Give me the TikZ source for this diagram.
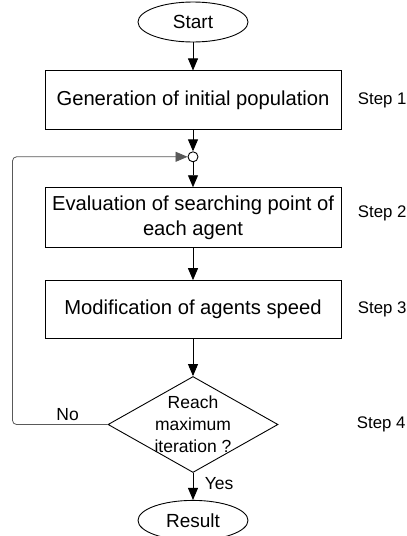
\documentclass[tikz,border=0pt]{standalone}
\usepackage{fontspec}
\setmainfont{Liberation Sans}
\usetikzlibrary{arrows.meta,positioning,shapes.geometric}
\begin{document}
\begin{tikzpicture}[
  x=1pt, y=1pt,
  every node/.style={align=center},
  term/.style={draw, ellipse, minimum width=110pt, minimum height=40pt, inner sep=0pt, font=\fontsize{19}{23}\selectfont},
  box/.style={draw, minimum width=296pt, inner sep=0pt, font=\fontsize{20.2}{25}\selectfont},
  decision/.style={draw, diamond, minimum width=170pt, minimum height=96pt, inner sep=0pt},
  tag/.style={font=\fontsize{17.5}{22}\selectfont},
  steptag/.style={inner sep=0pt, font=\fontsize{16.8}{20}\selectfont},
  joint/.style={draw, circle, minimum size=10pt, inner sep=0pt},
  back/.style={draw=black!65, line width=0.8pt, rounded corners=4pt},
  line width=0.9pt,
  >={Triangle[length=12pt,width=10pt]}
]
\useasboundingbox (0,0) rectangle (407,-536);
\node[term] (start) at (193,-22) {Start};
\node[box, minimum height=59pt, below=28pt of start] (gen) {Generation of initial population};
\node[joint, below=21pt of gen] (jn) {};
\node[box, minimum height=60pt, below=25pt of jn] (eval) {Evaluation of searching point of\\each agent};
\node[box, minimum height=58pt, below=32pt of eval] (mod) {Modification of agents speed};
\node[decision, below=37pt of mod] (chk) {};
\node[tag] (chktxt) at (chk) {Reach\\maximum\\iteration ?};
\node[term, below=27pt of chk] (res) {Result};
% step labels
\node[steptag, right=16pt of gen] (s1) {Step 1};
\node[steptag, right=16pt of eval, yshift=4pt] (s2) {Step 2};
\node[steptag, right=16pt of mod] (s3) {Step 3};
\node[steptag, right=78pt of chk] (s4) {Step 4};
% connectors
\draw[->] (start) -- (gen);
\draw[->] (gen) -- (jn);
\draw[->] (jn) -- (eval);
\draw[->] (eval) -- (mod);
\draw[->] (mod) -- (chk);
\draw[->] (chk) -- node[tag, right, xshift=8pt, pos=0.4]{Yes} (res);
\coordinate[left=95pt of chk.west] (lft);
\draw[back, ->] (chk.west) -- node[tag, above, pos=0.42]{No} (lft) |- (jn);
\end{tikzpicture}
\end{document}
